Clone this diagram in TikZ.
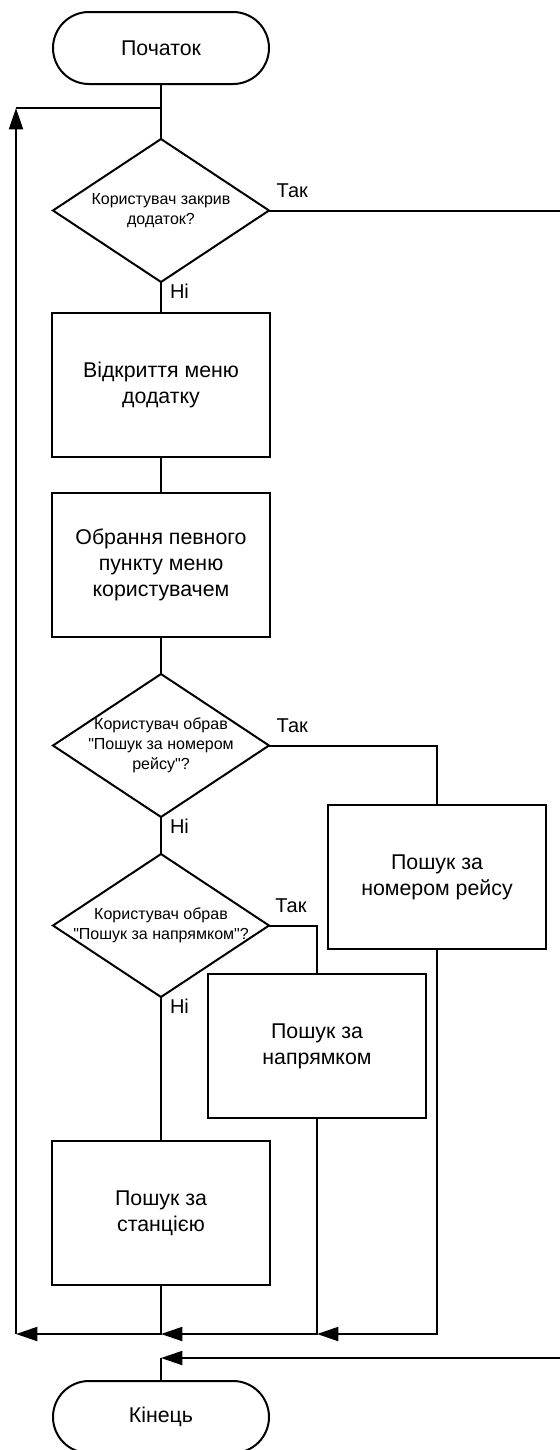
\documentclass[tikz,border=0pt]{standalone}
\usepackage{fontspec}
\setmainfont{Liberation Sans}[Ligatures=TeXOff]
\usetikzlibrary{arrows.meta,calc,positioning,shapes.geometric}
\tikzset{
  terminal/.style={
    rounded corners=27pt, draw, line width=1.5pt, outer sep=0pt,
    minimum width=162pt, minimum height=54pt,
    font=\fontsize{16}{19.5}\selectfont
  },
  process/.style={
    draw, line width=1.5pt, outer sep=0pt, minimum width=163.5pt, minimum height=108pt,
    align=center, font=\fontsize{16}{19.5}\selectfont
  },
  decision/.style={
    diamond, draw, line width=1.5pt, inner sep=0pt, outer sep=0pt,
    minimum width=162pt, minimum height=107.25pt
  },
  question/.style={align=center, inner sep=0pt, font=\fontsize{12}{15}\selectfont},
  yes/.style={anchor=base west, xshift=5pt, yshift=10pt, inner sep=0pt,
    font=\fontsize{15}{18}\selectfont},
  no/.style={anchor=north west, xshift=6pt, yshift=-1pt, inner sep=0pt,
    font=\fontsize{15}{18}\selectfont},
  link/.style={line width=1.5pt},
  flow/.style={link, -{Triangle[length=16pt, width=10.5pt]}}
}
\begin{document}
\begin{tikzpicture}[x=0.75pt, y=-0.75pt]
    \useasboundingbox (0,0) rectangle (560,1450);
    \node[terminal] (start) at (161,48) {Початок};
    \node[decision, below=41.25pt of start] (q1) {};
    \node[question] (q1t) at (q1) {Користувач закрив\\додаток?};
    \node[process, below=23.25pt of q1] (open) {Відкриття меню\\додатку};
    \node[process, below=27pt of open] (pick) {Обрання певного\\пункту меню\\користувачем};
    \node[decision, below=27.75pt of pick] (q2) {};
    \node[question] (q2t) at (q2) {Користувач обрав\\"Пошук за номером\\рейсу"?};
    \node[decision, below=27.75pt of q2] (q3) {};
    \node[question] (q3t) at (q3) {Користувач обрав\\"Пошук за напрямком"?};
    \node[process, below=108pt of q3] (station) {Пошук за\\станцією};
    \node[process] (flight) at (437,877) {Пошук за\\номером рейсу};
    \node[process] (direction) at (317,1046) {Пошук за\\напрямком};
    \node[terminal, below=72pt of station] (finish) {Кінець};
    \coordinate (rim) at (560,0);
    \coordinate (corner) at (16,108);
    \coordinate (bus) at (0,1334);
    \coordinate (back) at (560,1358);
    \draw[link] (start) -- (q1);
    \draw[link] (corner) -- (start.south |- corner);
    \draw[link] (q1.east) -- node[yes, at start] {Так} (q1.east -| rim);
    \draw[link] (q1) -- node[no, at start] {Ні} (open);
    \draw[link] (open) -- (pick);
    \draw[link] (pick) -- (q2);
    \draw[link] (q2.east) -| node[yes, at start] {Так} (flight.north);
    \draw[link] (q2) -- node[no, at start] {Ні} (q3);
    \draw[link] (q3.east) -| node[yes, at start, xshift=-1pt] {Так} (direction.north);
    \draw[link] (q3) -- node[no, at start] {Ні} (station);
    \draw[flow] (flight.south) |- (direction.south |- bus);
    \draw[flow] (direction.south) |- (station.south |- bus);
    \draw[flow] (station.south) |- (corner |- bus);
    \draw[flow] (corner |- bus) -- (corner);
    \draw[flow] (back) -- (finish.north |- back);
    \draw[link] (finish.north |- back) -- (finish);
\end{tikzpicture}
\end{document}
